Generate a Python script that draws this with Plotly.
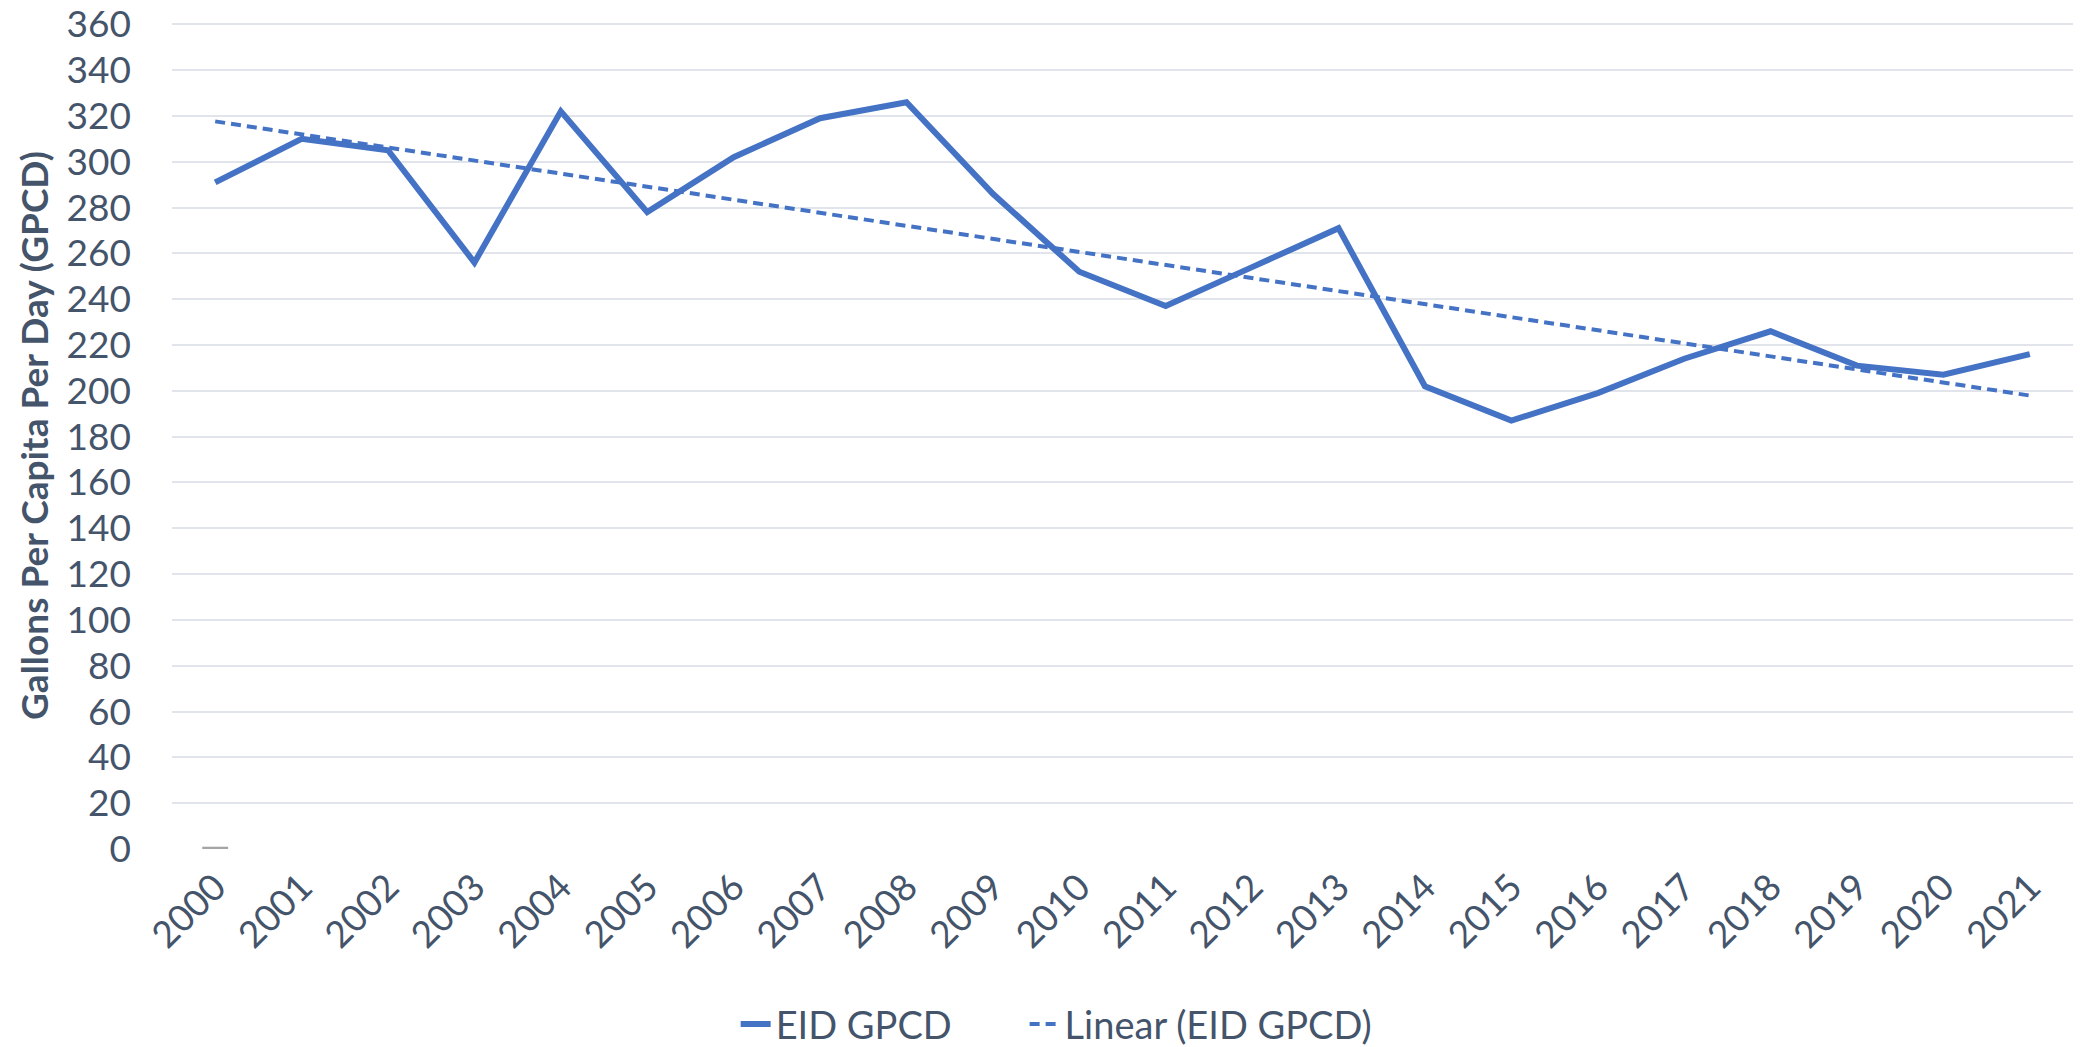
import numpy as np
import plotly.graph_objects as go

years = [str(y) for y in range(2000, 2022)]
gpcd = [291, 310, 305, 256, 322, 278, 302, 319, 326, 286, 252,
        237, 254, 271, 202, 187, 199, 214, 226, 211, 207, 216]
stub_years = ["2000"]
stub_values = [1]
y_ticks = list(range(0, 361, 20))

# Linear trendline (least squares fit of the data, as Excel's "Linear" trendline)
idx = np.arange(len(years))
slope, intercept = np.polyfit(idx, gpcd, 1)
trend = list(slope * idx + intercept)

BLUE = "#4472C4"
TEXT = "#44546A"
FONT = "Lato"

fig = go.Figure()
fig.add_trace(go.Bar(x=stub_years, y=stub_values, width=0.3,
                     marker=dict(color="#A5A5A5", line=dict(width=0)),
                     showlegend=False, hoverinfo="skip"))
fig.add_trace(go.Scatter(x=years, y=gpcd, mode="lines", name="EID GPCD",
                         line=dict(color=BLUE, width=6), legend="legend"))
fig.add_trace(go.Scatter(x=years, y=trend, mode="lines", name="Linear (EID GPCD)",
                         line=dict(color=BLUE, width=4, dash="10px,6px"),
                         legend="legend2"))

leg_common = dict(orientation="h", y=-0.212, yanchor="middle", xanchor="left",
                  font=dict(size=38, color=TEXT, family=FONT),
                  bgcolor="rgba(0,0,0,0)", borderwidth=0)

fig.update_layout(
    width=2085, height=1047,
    margin=dict(l=172, r=12, t=22, b=198, autoexpand=False),
    paper_bgcolor="white", plot_bgcolor="white",
    font=dict(family=FONT, color=TEXT, size=37),
    showlegend=True,
    legend=dict(x=0.2965, **leg_common),
    legend2=dict(x=0.4485, **leg_common),
    xaxis=dict(type="category", range=[-0.5, 21.5], showgrid=False, zeroline=False,
               showline=False, ticks="", tickangle=-45, ticklabelstandoff=8,
               tickfont=dict(size=37, color=TEXT), fixedrange=True),
    yaxis=dict(range=[0, 361], tickvals=y_ticks, showgrid=True,
               gridcolor="#E1E5EB", gridwidth=2, zeroline=False, showline=False,
               ticks="", ticklabelstandoff=40, tickfont=dict(size=37, color=TEXT),
               title=dict(text="<b>Gallons Per Capita Per Day (GPCD)</b>",
                          font=dict(size=37, color=TEXT), standoff=6)),
)

fig.write_html("out.html", config={"displayModeBar": False},
               post_script="document.body.style.margin='0';document.body.style.overflow='hidden';")
